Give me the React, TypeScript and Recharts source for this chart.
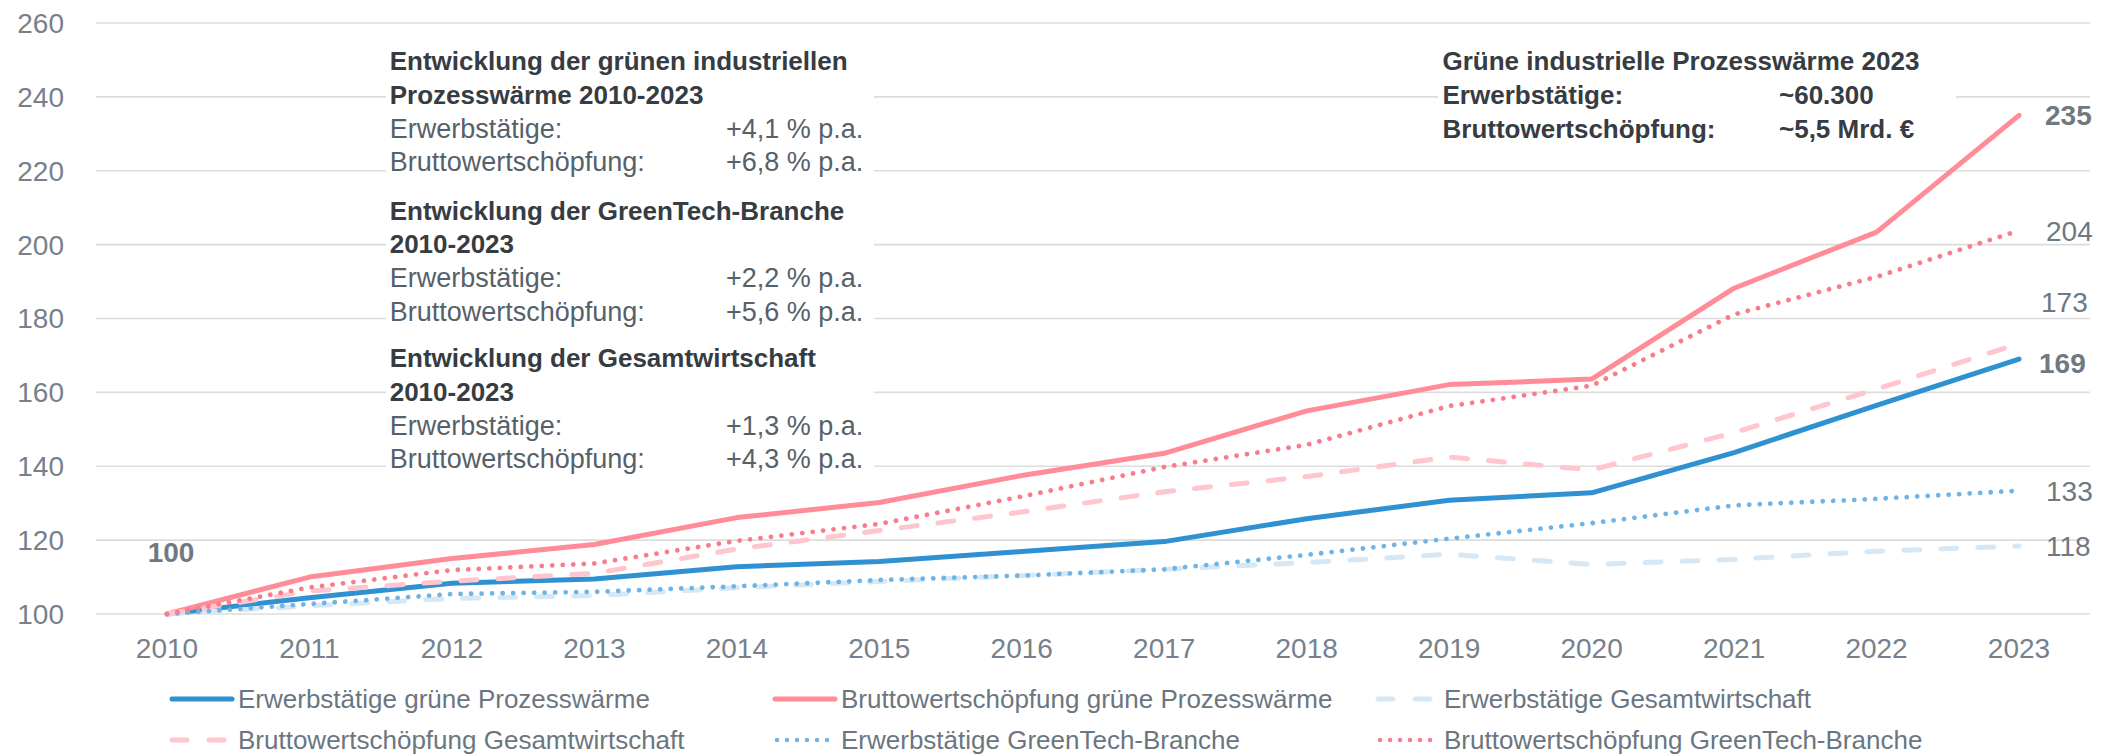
import React from 'react';
import { LineChart, Line, XAxis, YAxis, CartesianGrid, Legend, LabelList } from 'recharts';

// ---------- data ----------
const years = ['2010', '2011', '2012', '2013', '2014', '2015', '2016', '2017', '2018', '2019', '2020', '2021', '2022', '2023'];
const etGruenePW = [100, 104.4, 108.3, 109.5, 112.8, 114.2, 116.9, 119.6, 125.8, 130.8, 132.8, 143.7, 156.5, 169];
const bwsGruenePW = [100, 110, 115, 118.8, 126.1, 130.2, 137.5, 143.5, 155, 162.1, 163.6, 188.2, 203.4, 235];
const etGesamt = [100, 102.2, 104.2, 105, 107.1, 108.8, 110.4, 112.1, 113.9, 116.2, 113.4, 114.8, 117, 118.4];
const bwsGesamt = [100, 106.2, 108.9, 111, 117.6, 122.6, 127.6, 133.1, 137.2, 142.5, 139, 149.1, 160.9, 173.2];
const etGreenTech = [100, 102.7, 105.4, 106, 107.5, 109.2, 110.4, 112.1, 116, 120.4, 124.6, 129.4, 131.2, 133.4];
const bwsGreenTech = [100, 107.2, 111.9, 113.7, 119.8, 124.4, 131.8, 139.8, 145.8, 156.3, 161.8, 181.1, 191.3, 203.8];
const yTicks = [100, 120, 140, 160, 180, 200, 220, 240, 260];

const startLabel = '100';

const blockGruen = {
  title: ['Entwicklung der grünen industriellen', 'Prozesswärme 2010-2023'],
  rows: [['Erwerbstätige:', '+4,1 % p.a.'], ['Bruttowertschöpfung:', '+6,8 % p.a.']],
};
const blockGreenTech = {
  title: ['Entwicklung der GreenTech-Branche', '2010-2023'],
  rows: [['Erwerbstätige:', '+2,2 % p.a.'], ['Bruttowertschöpfung:', '+5,6 % p.a.']],
};
const blockGesamt = {
  title: ['Entwicklung der Gesamtwirtschaft', '2010-2023'],
  rows: [['Erwerbstätige:', '+1,3 % p.a.'], ['Bruttowertschöpfung:', '+4,3 % p.a.']],
};
const blockRightTitle = 'Grüne industrielle Prozesswärme 2023';
const blockRightRows = [['Erwerbstätige:', '~60.300'], ['Bruttowertschöpfung:', '~5,5 Mrd. €']];

// ---------- series config (styles) ----------
type Series = {
  key: string;
  name: string;
  values: number[];
  color: string;
  width: number;
  dash?: string;
  kind: 'solid' | 'dash' | 'dot';
  bold: boolean;
  dx: number;
  dy: number;
};

const series: Series[] = [
  { key: 'etGruenePW', name: 'Erwerbstätige grüne Prozesswärme', values: etGruenePW, color: '#2F90D2', width: 5, kind: 'solid', bold: true, dx: 20, dy: 4 },
  { key: 'bwsGruenePW', name: 'Bruttowertschöpfung grüne Prozesswärme', values: bwsGruenePW, color: '#FF8C97', width: 5, kind: 'solid', bold: true, dx: 26, dy: 0 },
  { key: 'etGesamt', name: 'Erwerbstätige Gesamtwirtschaft', values: etGesamt, color: '#D6E8F6', width: 5, dash: '16 21', kind: 'dash', bold: false, dx: 27, dy: 0 },
  { key: 'bwsGesamt', name: 'Bruttowertschöpfung Gesamtwirtschaft', values: bwsGesamt, color: '#FFC6CD', width: 5, dash: '16 21', kind: 'dash', bold: false, dx: 22, dy: -42 },
  { key: 'etGreenTech', name: 'Erwerbstätige GreenTech-Branche', values: etGreenTech, color: '#6FB4E4', width: 4.8, dash: '0.01 10.5', kind: 'dot', bold: false, dx: 27, dy: 0 },
  { key: 'bwsGreenTech', name: 'Bruttowertschöpfung GreenTech-Branche', values: bwsGreenTech, color: '#FA7B89', width: 4.8, dash: '0.01 10.5', kind: 'dot', bold: false, dx: 27, dy: 0 },
];

const legendOrder = ['etGruenePW', 'bwsGruenePW', 'etGesamt', 'bwsGesamt', 'etGreenTech', 'bwsGreenTech'];

const data = years.map((year, i) => {
  const row: Record<string, string | number> = { year };
  series.forEach((s) => {
    row[s.key] = s.values[i];
  });
  return row;
});

const FONT = '"Liberation Sans", Arial, sans-serif';
const W = 2100;
const H = 748;
const TICK_COLOR = '#76818B';
const LABEL_COLOR = '#6E7982';
const DARK = '#363C42';
const REG = '#56616A';

const makeEndLabel = (s: Series) => (props: any) => {
  const { x, y, value, index } = props;
  if (index !== years.length - 1) return null;
  return (
    <text
      x={Number(x) + s.dx}
      y={Number(y) + s.dy}
      dy="0.355em"
      textAnchor="start"
      fontFamily={FONT}
      fontSize={28}
      fontWeight={s.bold ? 700 : 400}
      fill={LABEL_COLOR}
    >
      {Math.round(Number(value))}
    </text>
  );
};

const startLabelContent = (props: any) => {
  const { x, y, index } = props;
  if (index !== 0) return null;
  return (
    <text x={Number(x) + 4} y={Number(y) - 62} dy="0.355em" textAnchor="middle" fontFamily={FONT} fontSize={28} fontWeight={700} fill={LABEL_COLOR}>
      {startLabel}
    </text>
  );
};

const LegendIcon = ({ s }: { s: Series }) => {
  if (s.kind === 'solid') {
    return (
      <svg width={66} height={12} style={{ display: 'block' }}>
        <line x1={3} y1={6} x2={63} y2={6} stroke={s.color} strokeWidth={5} strokeLinecap="round" />
      </svg>
    );
  }
  if (s.kind === 'dash') {
    return (
      <svg width={66} height={12} style={{ display: 'block' }}>
        <line x1={3} y1={6} x2={63} y2={6} stroke={s.color} strokeWidth={5} strokeLinecap="round" strokeDasharray="15 22" />
      </svg>
    );
  }
  return (
    <svg width={66} height={12} style={{ display: 'block' }}>
      <line x1={5} y1={6} x2={63} y2={6} stroke={s.color} strokeWidth={4.5} strokeLinecap="round" strokeDasharray="0.01 10" />
    </svg>
  );
};

const legendCols = [161, 764, 1367];
const legendRows = [31, 72];

const LegendContent = () => (
  <div style={{ position: 'relative', width: W, height: 86 }}>
    {legendOrder.map((k, i) => {
      const s = series.find((q) => q.key === k)!;
      const col = i % 3;
      const row = Math.floor(i / 3);
      return (
        <div
          key={k}
          style={{
            position: 'absolute',
            left: legendCols[col],
            top: legendRows[row] - 14,
            height: 28,
            display: 'flex',
            alignItems: 'center',
            whiteSpace: 'nowrap',
          }}
        >
          <LegendIcon s={s} />
          <span style={{ fontFamily: FONT, fontSize: 26, color: '#6B7680', marginLeft: 3, lineHeight: '28px' }}>{s.name}</span>
        </div>
      );
    })}
  </div>
);

type Block = { title: string[]; rows: string[][] };

const renderBlock = (b: Block, top: number, x: number, xv: number) => {
  const lines: React.ReactNode[] = [];
  const step = 33.7;
  b.title.forEach((t, i) => {
    lines.push(
      <text key={'t' + i} x={x} y={top + i * step} fontFamily={FONT} fontSize={26} fontWeight={700} fill={DARK}>
        {t}
      </text>
    );
  });
  b.rows.forEach((r, i) => {
    const yy = top + (b.title.length + i) * step;
    lines.push(
      <text key={'l' + i} x={x} y={yy} fontFamily={FONT} fontSize={27} fill={REG}>
        {r[0]}
      </text>
    );
    lines.push(
      <text key={'v' + i} x={xv} y={yy} fontFamily={FONT} fontSize={27} fill={REG}>
        {r[1]}
      </text>
    );
  });
  return lines;
};

const Overlay = () => (
  <svg width={W} height={H} style={{ position: 'absolute', left: 0, top: 0, pointerEvents: 'none' }}>
    <rect x={378} y={32} width={488} height={440} fill="#FFFFFF" />
    <rect x={1430} y={37} width={518} height={105} fill="#FFFFFF" />
    {renderBlock(blockGruen, 62.2, 381.7, 718)}
    {renderBlock(blockGreenTech, 211.6, 381.7, 718)}
    {renderBlock(blockGesamt, 359.3, 381.7, 718)}
    <text x={1434.5} y={62.2} fontFamily={FONT} fontSize={26} fontWeight={700} fill={DARK}>
      {blockRightTitle}
    </text>
    {blockRightRows.map((r, i) => (
      <g key={i}>
        <text x={1434.5} y={62.2 + (i + 1) * 33.7} fontFamily={FONT} fontSize={26} fontWeight={700} fill={DARK}>
          {r[0]}
        </text>
        <text x={1771} y={62.2 + (i + 1) * 33.7} fontFamily={FONT} fontSize={26} fontWeight={700} fill={DARK}>
          {r[1]}
        </text>
      </g>
    ))}
  </svg>
);

export default function App() {
  return (
    <div style={{ position: 'relative', width: W, height: H, background: '#FFFFFF', overflow: 'hidden' }}>
      <LineChart width={W} height={H} data={data} margin={{ top: 15, right: 18, bottom: 102, left: 0 }}>
        <CartesianGrid horizontal vertical={false} stroke="#DCDCDC" strokeWidth={1.6} />
        <XAxis
          dataKey="year"
          axisLine={false}
          tickLine={false}
          tickSize={0}
          tickMargin={24}
          height={40}
          padding={{ left: 71, right: 71 }}
          interval={0}
          tick={{ fontFamily: FONT, fontSize: 28, fill: TICK_COLOR }}
        />
        <YAxis
          domain={[100, 260]}
          ticks={yTicks}
          type="number"
          width={88}
          axisLine={false}
          tickLine={false}
          tickSize={0}
          tickMargin={32}
          interval={0}
          tick={{ fontFamily: FONT, fontSize: 28, fill: TICK_COLOR }}
        />
        <Legend
          layout="horizontal"
          verticalAlign="middle"
          align="center"
          content={() => <LegendContent />}
          wrapperStyle={{ left: 0, top: 660, width: W, height: 86 }}
        />
        {series.map((s) => (
          <Line
            key={s.key}
            dataKey={s.key}
            name={s.name}
            type="linear"
            stroke={s.color}
            strokeWidth={s.width}
            strokeDasharray={s.dash}
            strokeLinecap="round"
            strokeLinejoin="round"
            dot={false}
            activeDot={false}
            isAnimationActive={false}
          >
            <LabelList dataKey={s.key} content={makeEndLabel(s)} />
            {s.key === 'bwsGruenePW' ? <LabelList dataKey={s.key} content={startLabelContent} /> : null}
          </Line>
        ))}
      </LineChart>
      <Overlay />
    </div>
  );
}
